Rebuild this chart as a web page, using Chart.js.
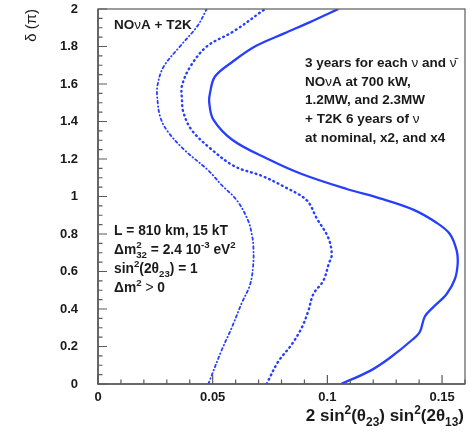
<!DOCTYPE html>
<html>
<head>
<meta charset="utf-8">
<script src="https://cdn.jsdelivr.net/npm/chart.js@4/dist/chart.umd.min.js"></script>
<style>
  html, body { margin: 0; padding: 0; background: #ffffff; }
  #c { display: block; }
</style>
</head>
<body>
<canvas id="c" width="470" height="438" style="width:470px;height:438px"></canvas>
<script>
// ---- Data (x = 2 sin^2(θ23) sin^2(2θ13), y = δ in units of π) ----
const outerDelta = [0.00, 0.07, 0.14, 0.24, 0.28, 0.36, 0.41, 0.48, 0.56, 0.64, 0.71, 0.80, 0.86, 0.93, 0.99, 1.04, 1.12, 1.20, 1.30, 1.41, 1.50, 1.55, 1.64, 1.72, 1.80, 1.87, 1.93, 2.00];
const outerX     = [0.1060, 0.1186, 0.1273, 0.1374, 0.1404, 0.1425, 0.1462, 0.1520, 0.1556, 0.1568, 0.1564, 0.1534, 0.1476, 0.1374, 0.1229, 0.1084, 0.0888, 0.0741, 0.0588, 0.0503, 0.0485, 0.0488, 0.0510, 0.0588, 0.0684, 0.0812, 0.0924, 0.1048];

const middleDelta = [0.00, 0.12, 0.21, 0.30, 0.39, 0.48, 0.55, 0.645, 0.69, 0.78, 0.885, 0.98, 1.05, 1.11, 1.16, 1.25, 1.355, 1.45, 1.52, 1.59, 1.69, 1.80, 1.88, 2.00];
const middleX     = [0.0735, 0.0786, 0.0844, 0.0888, 0.0917, 0.0939, 0.0982, 0.1007, 0.1019, 0.1004, 0.0953, 0.0910, 0.0815, 0.0714, 0.0597, 0.0496, 0.0408, 0.0372, 0.0366, 0.0366, 0.0401, 0.0474, 0.0590, 0.0728];

const innerDelta = [0.00, 0.18, 0.30, 0.43, 0.53, 0.64, 0.74, 0.79, 0.87, 0.98, 1.06, 1.14, 1.25, 1.355, 1.43, 1.52, 1.59, 1.69, 1.80, 1.91, 2.00];
const innerX     = [0.0481, 0.0539, 0.0583, 0.0626, 0.0663, 0.0677, 0.0677, 0.0672, 0.0655, 0.0605, 0.0540, 0.0480, 0.0375, 0.0299, 0.0270, 0.0259, 0.0259, 0.0285, 0.0357, 0.0434, 0.0474];

const xTickValues = [0, 0.05, 0.1, 0.15];
const xTickLabels = ['0', '0.05', '0.1', '0.15'];
const yTickValues = [0, 0.2, 0.4, 0.6, 0.8, 1, 1.2, 1.4, 1.6, 1.8, 2];
const yTickLabels = ['0', '0.2', '0.4', '0.6', '0.8', '1', '1.2', '1.4', '1.6', '1.8', '2'];

const xTitle = [{t:'2 sin'},{t:'2',s:1},{t:'(θ'},{t:'23',s:-1},{t:') sin'},{t:'2',s:1},{t:'(2θ'},{t:'13',s:-1},{t:')'}];
const yTitle = 'δ (π)';
const topLabel = [{t:'NO'},{t:'ν',b:false},{t:'A + T2K'}];
const rightNote = [
  [{t:'3 years for each '},{t:'ν',b:false},{t:' and '},{t:'ν̄',b:false}],
  [{t:'NO'},{t:'ν',b:false},{t:'A at 700 kW,'}],
  [{t:'1.2MW, and 2.3MW'}],
  [{t:'+ T2K 6 years of '},{t:'ν',b:false}],
  [{t:'at nominal, x2, and x4'}]
];
const leftNote = [
  [{t:'L = 810 km, 15 kT'}],
  [{t:'Δm'},{ss:['32','2']},{t:' = 2.4 10'},{t:'-3',s:1},{t:' eV'},{t:'2',s:1}],
  [{t:'sin'},{t:'2',s:1},{t:'(2θ'},{t:'23',s:-1},{t:') = 1'}],
  [{t:'Δm'},{t:'2',s:1},{t:' '},{t:'>',b:false},{t:' 0'}]
];

const BLUE = 'rgb(38,62,255)';
const TXT = '#1a1a1a';
const FAM = '"Liberation Sans", Arial, Helvetica, sans-serif';

function pts(xs, ds) { return xs.map((x, i) => ({x: x, y: ds[i]})); }

function drawRich(ctx, x, y, parts, size, align) {
  const fnt = (sz, bold) => (bold === false ? '' : 'bold ') + sz + 'px ' + FAM;
  const small = size * 0.7;
  function pw(p) {
    if (p.ss) { ctx.font = fnt(small); return Math.max(ctx.measureText(p.ss[0]).width, ctx.measureText(p.ss[1]).width); }
    ctx.font = fnt(p.s ? small : size, p.b);
    return ctx.measureText(p.t).width;
  }
  const total = parts.reduce((a, p) => a + pw(p), 0);
  let cx = align === 'right' ? x - total : x;
  ctx.textAlign = 'left';
  ctx.textBaseline = 'alphabetic';
  for (const p of parts) {
    const w = pw(p);
    if (p.ss) {
      ctx.font = fnt(small);
      ctx.fillText(p.ss[0], cx, y + size * 0.32);
      ctx.fillText(p.ss[1], cx, y - size * 0.42);
    } else {
      ctx.font = fnt(p.s ? small : size, p.b);
      const dy = p.s === 1 ? -size * 0.42 : (p.s === -1 ? size * 0.32 : 0);
      ctx.fillText(p.t, cx, y + dy);
    }
    cx += w;
  }
}

const decor = {
  id: 'decor',
  afterDraw(chart) {
    const ctx = chart.ctx;
    const a = chart.chartArea;
    const xs = chart.scales.x, ys = chart.scales.y;
    ctx.save();
    // frame
    ctx.strokeStyle = '#5a5a5a';
    ctx.lineWidth = 1.2;
    ctx.strokeRect(a.left, a.top, a.right - a.left, a.bottom - a.top);
    ctx.lineWidth = 1.6;
    ctx.beginPath();
    ctx.moveTo(a.left, a.top); ctx.lineTo(a.left, a.bottom); ctx.lineTo(a.right, a.bottom);
    ctx.stroke();
    // inward ticks
    ctx.lineWidth = 1.2;
    ctx.beginPath();
    for (let k = 0; k <= 16; k++) {
      const v = k * 0.01;
      const px = xs.getPixelForValue(v);
      const len = (k % 5 === 0) ? 9 : 4.5;
      ctx.moveTo(px, a.bottom); ctx.lineTo(px, a.bottom - len);
    }
    for (let k = 0; k <= 40; k++) {
      const v = k * 0.05;
      const py = ys.getPixelForValue(v);
      const len = (k % 4 === 0) ? 9 : 4.5;
      ctx.moveTo(a.left, py); ctx.lineTo(a.left + len, py);
    }
    ctx.stroke();
    // texts
    ctx.fillStyle = TXT;
    drawRich(ctx, 114, 29, topLabel, 13.5);
    rightNote.forEach((line, i) => drawRich(ctx, 305, 67 + i * 18.7, line, 13.5));
    leftNote.forEach((line, i) => drawRich(ctx, 114, 235 + i * 19, line, 13.8));
    drawRich(ctx, 464, 421, xTitle, 17, 'right');
    // y title
    ctx.save();
    ctx.translate(36, 9);
    ctx.rotate(-Math.PI / 2);
    ctx.font = '15px ' + FAM;
    ctx.textAlign = 'right';
    ctx.textBaseline = 'alphabetic';
    ctx.fillText(yTitle, 0, 0);
    ctx.restore();
    ctx.restore();
  }
};

new Chart(document.getElementById('c'), {
  type: 'scatter',
  data: {
    datasets: [
      { data: pts(outerX, outerDelta), showLine: true, borderColor: BLUE, borderWidth: 2.3, pointRadius: 0, tension: 0.35, fill: false },
      { data: pts(middleX, middleDelta), showLine: true, borderColor: BLUE, borderWidth: 2.4, borderDash: [0.8, 4], borderCapStyle: 'round', pointRadius: 0, tension: 0.35, fill: false },
      { data: pts(innerX, innerDelta), showLine: true, borderColor: BLUE, borderWidth: 1.8, borderDash: [2.5, 3, 0.5, 3], borderCapStyle: 'round', pointRadius: 0, tension: 0.35, fill: false }
    ]
  },
  options: {
    responsive: false,
    animation: false,
    devicePixelRatio: 1,
    layout: { padding: { top: 9, right: 5, left: 0, bottom: 0 } },
    plugins: { legend: { display: false }, tooltip: { enabled: false } },
    scales: {
      x: {
        type: 'linear', min: 0, max: 0.16,
        afterFit(s) { s.height = 54; s.paddingLeft = 0; s.paddingRight = 0; },
        afterBuildTicks(s) { s.ticks = xTickValues.map(v => ({ value: v })); },
        grid: { display: false, drawTicks: false },
        border: { display: false },
        ticks: { padding: 6, color: TXT, font: { family: FAM, size: 13, weight: 'bold' }, maxRotation: 0, autoSkip: false,
                 callback: (v, i) => xTickLabels[i] }
      },
      y: {
        type: 'linear', min: 0, max: 2,
        afterFit(s) { s.width = 98; s.paddingTop = 0; s.paddingBottom = 0; },
        afterBuildTicks(s) { s.ticks = yTickValues.map(v => ({ value: v })); },
        grid: { display: false, drawTicks: false },
        border: { display: false },
        ticks: { padding: 20, color: TXT, font: { family: FAM, size: 13, weight: 'bold' }, autoSkip: false,
                 callback: (v, i) => yTickLabels[i] }
      }
    }
  },
  plugins: [decor]
});
</script>
</body>
</html>
